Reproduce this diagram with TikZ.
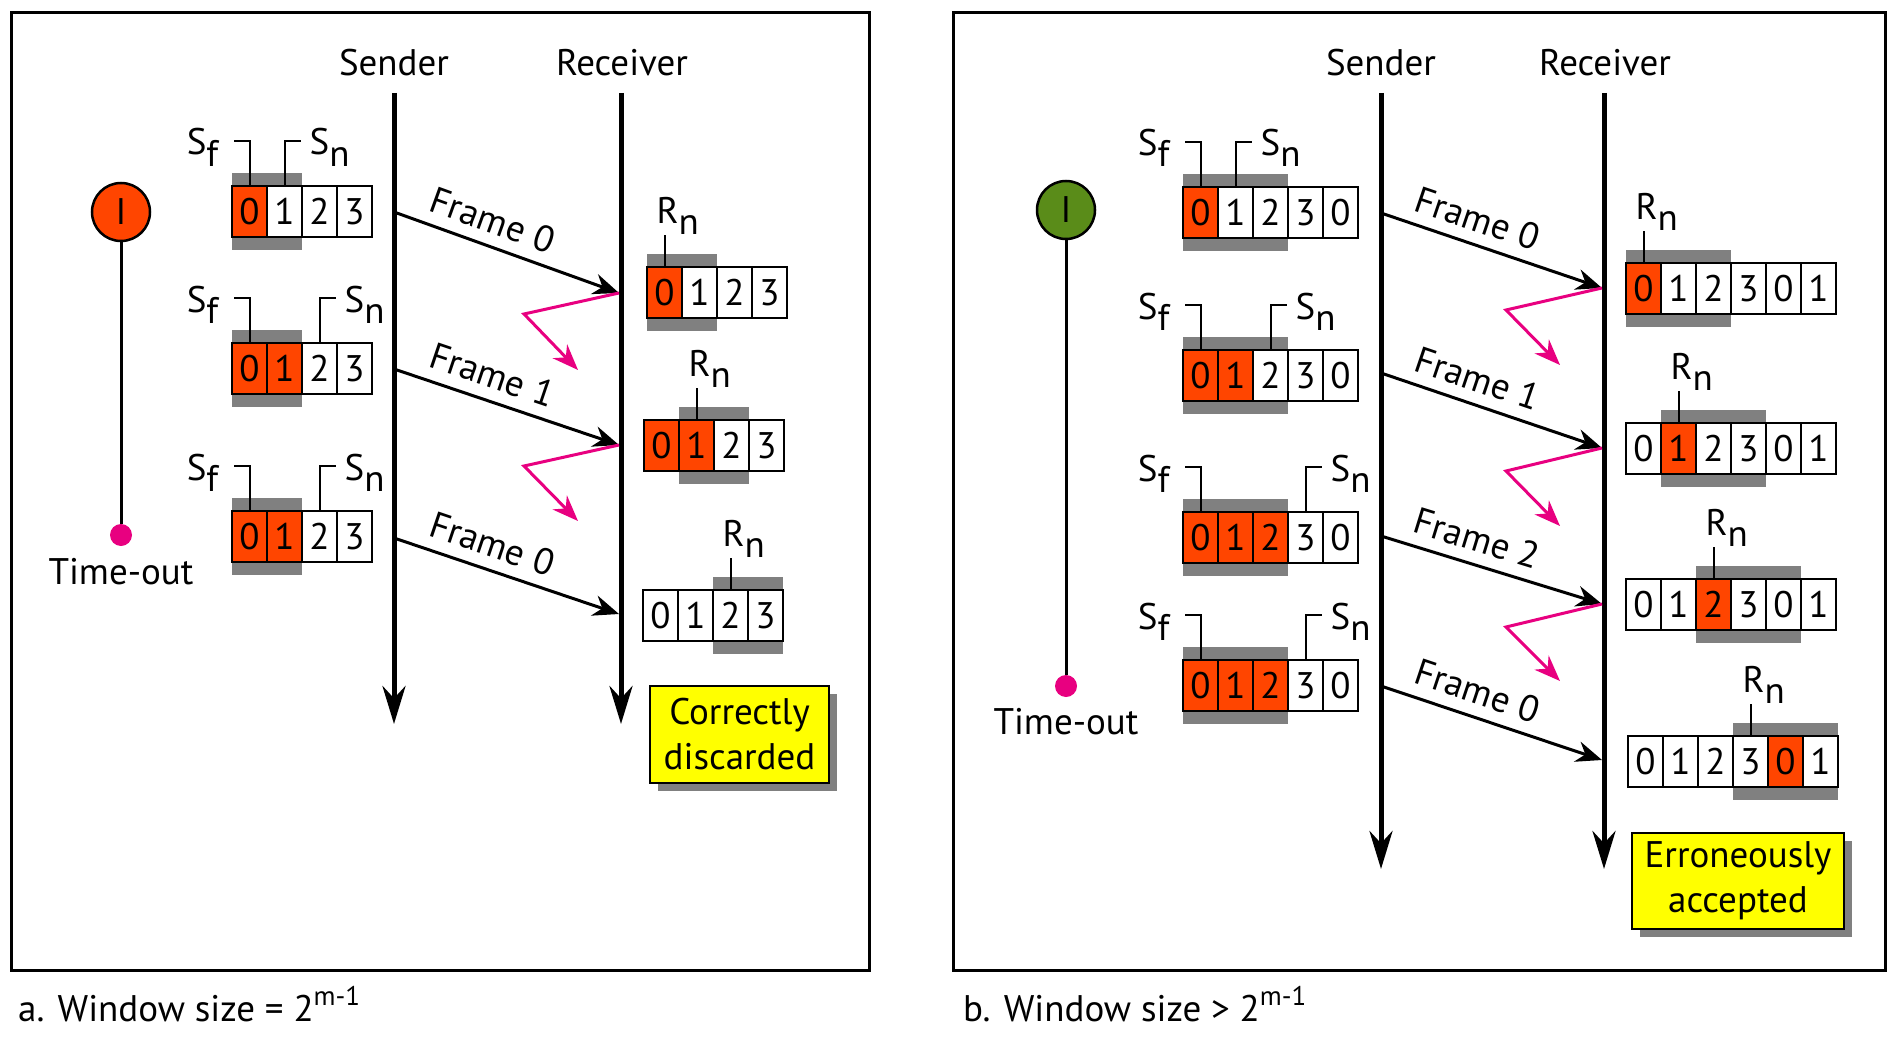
\documentclass[tikz,border=0pt]{standalone}
\usepackage{fontspec}
\setmainfont{PT Sans}
\usetikzlibrary{arrows.meta,shadows}
\definecolor{orng}{RGB}{255,69,0}
\definecolor{pinkish}{RGB}{232,0,128}
\definecolor{grn}{RGB}{90,140,25}
\definecolor{wgray}{RGB}{128,128,128}
\definecolor{yel}{RGB}{255,255,0}
\newcommand\fsmain{\fontsize{37}{45}\selectfont}
\newcommand\lowsub[1]{\raisebox{-11pt}{#1}}
\tikzset{
  every node/.style={font=\fsmain},
  cell/.style={draw, line width=2.5pt, minimum width=35pt, minimum height=51pt, inner sep=0pt, outer sep=0pt},
  ptr/.style={line width=2pt},
  lbl/.style={inner sep=0pt},
  panel/.style={line width=3pt},
  tline/.style={line width=5pt, -{Stealth[length=38pt, width=23pt]}},
  msg/.style={line width=3pt, -{Stealth[length=26pt, width=21pt]}},
  lost/.style={line width=3pt, pinkish, -{Stealth[length=26pt, width=20pt]}},
  flabel/.style={above=8pt, sloped, pos=0.40, inner sep=3pt},
  timer/.style={circle, draw, line width=2.5pt, minimum size=58pt, inner sep=0pt},
  tdot/.style={circle, fill=pinkish, minimum size=22pt, inner sep=0pt},
  tmline/.style={line width=3pt},
  note/.style={draw, line width=2.5pt, fill=yel, align=center, inner sep=0pt,
    drop shadow={shadow xshift=8pt, shadow yshift=-8pt, fill=wgray, opacity=1}},
}
% window: #1 name, #2 x, #3 y top, #4 digit/colour list, #5 first gray cell, #6 gray count
\newcommand\win[6]{%
  \fill[wgray] (#2+35*#5, #3-13) rectangle (#2+35*#5+35*#6, #3+64);
  \foreach \dg/\fl [count=\i from 0] in {#4} {
    \node[cell, fill=\fl] (#1-\i) at (#2+35*\i+17.5, #3+25.5) {\dg};
  }%
}
\newcommand\sptrs[3]{%
  \draw[ptr] (#1-#2.north) -- ++(0,-45) -- ++(-16,0);
  \draw[ptr] (#1-#3.north) -- ++(0,-45) -- ++(16,0);
  \node[lbl, anchor=base east] (#1f) at ([shift={(-31,-31)}]#1-#2.north) {S\lowsub{f}};
  \node[lbl, anchor=base west] (#1n) at ([shift={(25,-31)}]#1-#3.north) {S\lowsub{n}};
}
\newcommand\rptr[2]{%
  \draw[ptr] (#1-#2.north) -- ++(0,-32) coordinate (#1p);
  \node[lbl, anchor=base west] (#1lab) at ([shift={(-8,-12)}]#1p) {R\lowsub{n}};
}
\begin{document}
\begin{tikzpicture}[x=1pt, y=-1pt]
\useasboundingbox (0,0) rectangle (1890,1038);
% ---------------- panel a ----------------
\draw[panel] (11,13) rectangle (869,970);
\node[anchor=base] (sndA) at (394,76) {Sender};
\node[anchor=base] (rcvA) at (622,76) {Receiver};
\coordinate (sndAt) at (394,93); \coordinate (sndAb) at (394,724);
\coordinate (rcvAt) at (621,93); \coordinate (rcvAb) at (621,724);
\draw[tline] (sndAt) -- (sndAb);
\draw[tline] (rcvAt) -- (rcvAb);

\node[timer, fill=orng] (tA) at (121,212) {I};
\node[tdot] (dA) at (121,535) {};
\draw[tmline] (tA) -- (dA);
\node[anchor=base] (toA) at (121,584) {Time-out};

\win{sA1}{232}{186}{0/orng,1/white,2/white,3/white}{0}{2}
\win{sA2}{232}{343}{0/orng,1/orng,2/white,3/white}{0}{2}
\win{sA3}{232}{511}{0/orng,1/orng,2/white,3/white}{0}{2}
\sptrs{sA1}{0}{1}
\sptrs{sA2}{0}{2}
\sptrs{sA3}{0}{2}

\win{rA1}{647}{267}{0/orng,1/white,2/white,3/white}{0}{2}
\win{rA2}{644}{420}{0/orng,1/orng,2/white,3/white}{1}{2}
\win{rA3}{643}{590}{0/white,1/white,2/white,3/white}{2}{2}
\rptr{rA1}{0}
\rptr{rA2}{1}
\rptr{rA3}{2}

\coordinate (mA1s) at (394,212); \coordinate (mA1e) at (619,293);
\coordinate (mA2s) at (394,369); \coordinate (mA2e) at (619,445);
\coordinate (mA3s) at (394,538); \coordinate (mA3e) at (619,614);
\draw[msg] (mA1s) -- node[flabel] {Frame 0} (mA1e);
\draw[msg] (mA2s) -- node[flabel] {Frame 1} (mA2e);
\draw[msg] (mA3s) -- node[flabel] {Frame 0} (mA3e);

\coordinate (zA1a) at (524,314); \coordinate (zA1b) at (578,370);
\coordinate (zA2a) at (524,466); \coordinate (zA2b) at (578,521);
\draw[lost] (mA1e) -- (zA1a) -- (zA1b);
\draw[lost] (mA2e) -- (zA2a) -- (zA2b);

\node[note, minimum width=179pt, minimum height=97pt] (ndA) at (739.5,734.5) {Correctly\\discarded};

\node[lbl, anchor=base west] (capA) at (18,1021) {a. Window size = 2\raisebox{16pt}{\fontsize{27}{27}\selectfont m-1}};

% ---------------- panel b ----------------
\draw[panel] (953,13) rectangle (1885,970);
\node[anchor=base] (sndB) at (1381,76) {Sender};
\node[anchor=base] (rcvB) at (1605,76) {Receiver};
\coordinate (sndBt) at (1381,93); \coordinate (sndBb) at (1381,869);
\coordinate (rcvBt) at (1604,93); \coordinate (rcvBb) at (1604,869);
\draw[tline] (sndBt) -- (sndBb);
\draw[tline] (rcvBt) -- (rcvBb);

\node[timer, fill=grn] (tB) at (1066,210) {I};
\node[tdot] (dB) at (1066,686) {};
\draw[tmline] (tB) -- (dB);
\node[anchor=base] (toB) at (1066,734) {Time-out};

\win{sB1}{1183}{187}{0/orng,1/white,2/white,3/white,0/white}{0}{3}
\win{sB2}{1183}{350}{0/orng,1/orng,2/white,3/white,0/white}{0}{3}
\win{sB3}{1183}{512}{0/orng,1/orng,2/orng,3/white,0/white}{0}{3}
\win{sB4}{1183}{660}{0/orng,1/orng,2/orng,3/white,0/white}{0}{3}
\sptrs{sB1}{0}{1}
\sptrs{sB2}{0}{2}
\sptrs{sB3}{0}{3}
\sptrs{sB4}{0}{3}

\win{rB1}{1626}{263}{0/orng,1/white,2/white,3/white,0/white,1/white}{0}{3}
\win{rB2}{1626}{423}{0/white,1/orng,2/white,3/white,0/white,1/white}{1}{3}
\win{rB3}{1626}{579}{0/white,1/white,2/orng,3/white,0/white,1/white}{2}{3}
\win{rB4}{1628}{736}{0/white,1/white,2/white,3/white,0/orng,1/white}{3}{3}
\rptr{rB1}{0}
\rptr{rB2}{1}
\rptr{rB3}{2}
\rptr{rB4}{3}

\coordinate (mB1s) at (1381,213); \coordinate (mB1e) at (1602,288);
\coordinate (mB2s) at (1381,373); \coordinate (mB2e) at (1602,448);
\coordinate (mB3s) at (1381,536); \coordinate (mB3e) at (1602,604);
\coordinate (mB4s) at (1381,686); \coordinate (mB4e) at (1602,760);
\draw[msg] (mB1s) -- node[flabel] {Frame 0} (mB1e);
\draw[msg] (mB2s) -- node[flabel] {Frame 1} (mB2e);
\draw[msg] (mB3s) -- node[flabel] {Frame 2} (mB3e);
\draw[msg] (mB4s) -- node[flabel] {Frame 0} (mB4e);

\coordinate (zB1a) at (1506,310); \coordinate (zB1b) at (1560,365);
\coordinate (zB2a) at (1506,471); \coordinate (zB2b) at (1560,526);
\coordinate (zB3a) at (1506,627); \coordinate (zB3b) at (1560,681);
\draw[lost] (mB1e) -- (zB1a) -- (zB1b);
\draw[lost] (mB2e) -- (zB2a) -- (zB2b);
\draw[lost] (mB3e) -- (zB3a) -- (zB3b);

\node[note, minimum width=212pt, minimum height=96pt] (ndB) at (1738,881) {Erroneously\\accepted};

\node[lbl, anchor=base west] (capB) at (963,1021) {b. Window size > 2\raisebox{16pt}{\fontsize{27}{27}\selectfont m-1}};
\end{tikzpicture}
\end{document}
